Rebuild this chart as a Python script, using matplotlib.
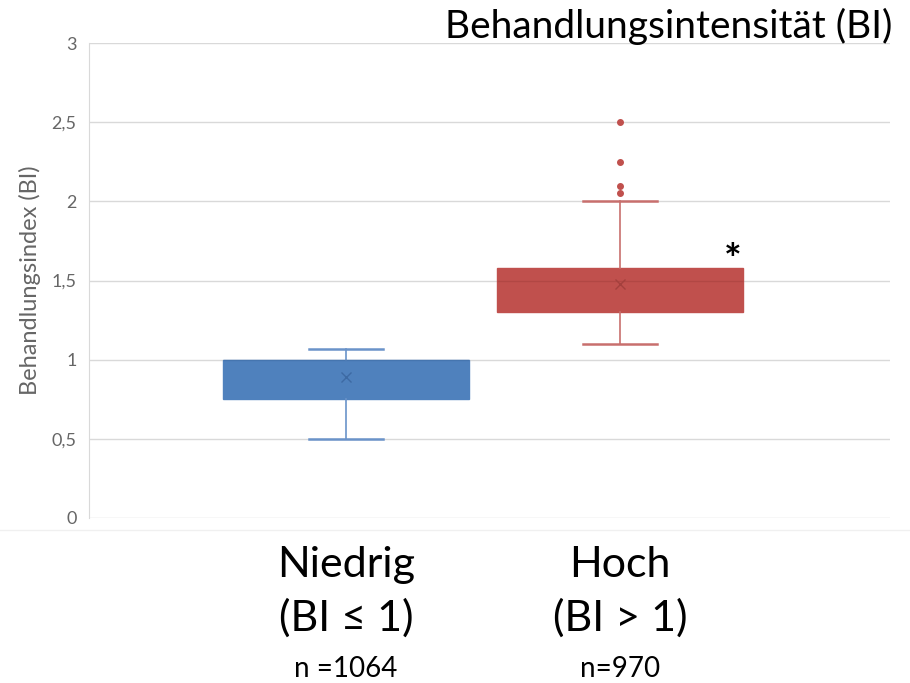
import matplotlib.pyplot as plt
from matplotlib.lines import Line2D

# box plot statistics
groups = ["Niedrig", "Hoch"]
subtitles = ["(BI \u2264 1)", "(BI > 1)"]
n_labels = ["n =1064", "n=970"]
q1 = [0.75, 1.30]
median = [1.0, 1.5]
q3 = [1.0, 1.58]
whisker_low = [0.5, 1.1]
whisker_high = [1.07, 2.0]
means = [0.89, 1.48]
outliers = [[], [2.05, 2.10, 2.25, 2.50]]

box_colors = ["#4f81bd", "#c0504d"]
line_colors = ["#6a93c9", "#c86f6d"]
mean_colors = ["#3d6aa3", "#a4403d"]

plt.rcParams["font.family"] = ["Lato", "DejaVu Sans"]

fig = plt.figure(figsize=(9.1, 6.83), dpi=100)
ax = fig.add_axes([0.098, 0.2416, 0.88, 0.6954])

positions = [1, 2]
stats = []
for i in range(len(groups)):
    stats.append({
        "label": groups[i],
        "q1": q1[i], "med": median[i], "q3": q3[i],
        "whislo": whisker_low[i], "whishi": whisker_high[i],
        "mean": means[i], "fliers": outliers[i],
    })

for i, st in enumerate(stats):
    ax.bxp([st], positions=[positions[i]], widths=0.9, patch_artist=True,
           showmeans=True, manage_ticks=False,
           boxprops=dict(facecolor=box_colors[i], edgecolor=box_colors[i], lw=1),
           medianprops=dict(color=mean_colors[i], lw=1, alpha=0.5),
           whiskerprops=dict(color=line_colors[i], lw=1.2),
           capprops=dict(color=line_colors[i], lw=1.8),
           capwidths=0.27,
           meanprops=dict(marker="x", markeredgecolor=mean_colors[i],
                          markersize=7, markeredgewidth=1),
           flierprops=dict(marker="o", markerfacecolor=box_colors[i],
                           markeredgecolor=box_colors[i], markersize=4))

ax.set_xlim(0.062, 2.985)
ax.set_ylim(0, 3)
ax.set_yticks([0, 0.5, 1, 1.5, 2, 2.5, 3])
ax.set_yticklabels(["0", "0,5", "1", "1,5", "2", "2,5", "3"])
ax.yaxis.grid(True, color="#d9d9d9", lw=1)
ax.set_axisbelow(True)
ax.set_xticks([])
for s in ["top", "right", "bottom"]:
    ax.spines[s].set_visible(False)
ax.spines["left"].set_color("#d9d9d9")
ax.tick_params(axis="y", length=0, labelsize=13, labelcolor="#666666", pad=9)
ax.set_ylabel("Behandlungsindex (BI)", fontsize=17, color="#666666", labelpad=8)

# significance marker
ax.text(2.41, 1.62, "*", fontsize=30, fontweight="bold", ha="center", va="center")

# category labels below the axis
tr = ax.get_xaxis_transform()
for i, p in enumerate(positions):
    ax.text(p, -0.10, groups[i], transform=tr, ha="center", va="center", fontsize=31)
    ax.text(p, -0.21, subtitles[i], transform=tr, ha="center", va="center", fontsize=31)
    ax.text(p, -0.318, n_labels[i], transform=tr, ha="center", va="center", fontsize=20)

fig.text(0.981, 0.961, "Behandlungsintensit\u00e4t (BI)", ha="right", va="center", fontsize=28)

# faint edge of the embedded chart area
fig.add_artist(Line2D([0, 1], [0.224, 0.224], color="#f0f0f0", lw=1))

fig.savefig("out.png", dpi=100)
